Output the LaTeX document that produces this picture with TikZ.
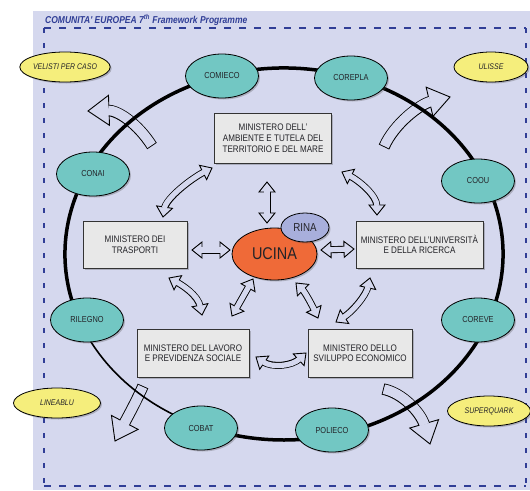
\documentclass[tikz,border=0pt]{standalone}
\usepackage{fontspec}
\usetikzlibrary{decorations.markings,shadows,shapes.geometric}
\newfontfamily\nf{Liberation Sans}[FakeStretch=0.85]
\definecolor{bgc}{RGB}{213,216,238}
\definecolor{framec}{RGB}{48,62,150}
\definecolor{tealc}{RGB}{114,199,195}
\definecolor{yelc}{RGB}{245,238,124}
\definecolor{orc}{RGB}{239,106,56}
\definecolor{rinac}{RGB}{168,175,220}
\definecolor{boxc}{RGB}{232,232,232}
\definecolor{txtc}{RGB}{35,35,40}
\tikzset{
  shad/.style={drop shadow={shadow xshift=1.5pt,shadow yshift=-1.5pt,opacity=0.3,fill=black!70}},
  tealnode/.style={ellipse, draw=black, line width=0.8pt, fill=tealc, minimum width=73pt, minimum height=44pt, inner sep=0pt, font=\nf\fontsize{8.7}{10}\selectfont, text=txtc, shad},
  yelnode/.style={ellipse, draw=black, line width=0.8pt, fill=yelc, minimum height=30pt, inner sep=0pt, font=\nf\itshape\fontsize{8.2}{10}\selectfont, text=txtc, shad},
  mbox/.style={rectangle, draw=black!80, line width=0.8pt, fill=boxc, inner sep=0pt, align=center, font=\nf\fontsize{9.5}{10.5}\selectfont, text=txtc, shad},
  headst/.style={fill=bgc, draw=black, line width=0.9pt, line join=miter},
  ringline/.style={draw=black, line width=3.5pt},
}
% hollow double-headed arrow: outline 0.9pt
\newcommand{\DArr}[1]{%
  \draw[line width=7pt, shorten >=8pt, shorten <=8pt] #1;
  \path[decorate, decoration={markings,
     mark=at position 0 with {\filldraw[headst] (0,0) -- (10pt,8pt) -- (10pt,-8pt) -- cycle;},
     mark=at position 1 with {\filldraw[headst] (0,0) -- (-10pt,8pt) -- (-10pt,-8pt) -- cycle;}}] #1;
  \draw[line width=5.2pt, bgc, shorten >=9pt, shorten <=9pt] #1;
}
% hollow single arrow
\newcommand{\SArr}[1]{%
  \draw[line width=11.5pt, shorten >=19pt] #1;
  \path[decorate, decoration={markings,
     mark=at position 1 with {\filldraw[headst] (0,0) -- (-21pt,15pt) -- (-21pt,-15pt) -- cycle;}}] #1;
  \draw[line width=9.7pt, bgc, shorten >=20pt, shorten <=0.9pt] #1;
}
\begin{document}
\begin{tikzpicture}[x=1pt,y=-1pt]
\useasboundingbox (0,0) rectangle (530,490);
\fill[white] (0,0) rectangle (530,490);
\fill[bgc] (33,11) rectangle (530,490);
% dashed frame
\draw[framec, line width=1.4pt, dash pattern=on 7pt off 8pt] (44,28) -- (526,28);
\draw[framec, line width=1.4pt, dash pattern=on 7pt off 8pt] (44,486) -- (526,486);
\draw[framec, line width=1.4pt, dash pattern=on 5pt off 10pt] (44,28) -- (44,486);
\draw[framec, line width=1.4pt, dash pattern=on 5pt off 10pt] (526,28) -- (526,486);
\node[anchor=base west, text=framec, inner sep=0pt, font=\nf\bfseries\itshape\fontsize{10}{12}\selectfont] (title) at (45,23) {COMUNITA' EUROPEA 7\textsuperscript{th} Framework Programme};

% big outward arrows
\SArr{(152,146) .. controls (138,124) and (118,110) .. (88,111)}
\SArr{(384,147) .. controls (394,124) and (420,104) .. (450,97)}
\SArr{(143,386) .. controls (136,402) and (126,420) .. (115,441)}
\SArr{(383,389) .. controls (403,393) and (421,413) .. (430,444)}

% ring
\draw[ringline] (284,254) ++(-160:219pt and 186pt) arc[start angle=-160, end angle=-470, x radius=219pt, y radius=186pt];
\draw[black, line width=1.6pt] (284,254) ++(-110:219pt and 186pt) arc[start angle=-110, end angle=-160, x radius=219pt, y radius=186pt];

% outer nodes
\node[tealnode] (comieco) at (222,76) {COMIECO};
\node[tealnode] (corepla) at (351,78) {COREPLA};
\node[tealnode] (conai) at (93,174) {CONAI};
\node[tealnode] (coou) at (478,181) {COOU};
\node[tealnode] (rilegno) at (87,320) {RILEGNO};
\node[tealnode] (coreve) at (478,320) {COREVE};
\node[tealnode] (cobat) at (201,428) {COBAT};
\node[tealnode] (polieco) at (332,430) {POLIECO};

\node[yelnode, minimum width=87pt] (velisti) at (65,67) {VELISTI PER CASO};
\node[yelnode, minimum width=74pt] (ulisse) at (491,67) {ULISSE};
\node[yelnode, minimum width=87pt] (lineablu) at (57,403) {LINEABLU};
\node[yelnode, minimum width=83pt] (superquark) at (489,411) {SUPERQUARK};

% ministries
\node[mbox, minimum width=117pt, minimum height=50pt, font=\nf\fontsize{9.5}{11}\selectfont] (amb) at (273,138) {MINISTERO DELL’\\AMBIENTE E TUTELA DEL\\TERRITORIO E DEL MARE};
\node[mbox, minimum width=104pt, minimum height=47pt] (trasp) at (135,244.5) {MINISTERO DEI\\TRASPORTI};
\node[mbox, minimum width=127pt, minimum height=47pt] (univ) at (419.5,244.5) {MINISTERO DELL’UNIVERSITÀ\\E DELLA RICERCA};
\node[mbox, minimum width=112pt, minimum height=48pt] (lav) at (193,353) {MINISTERO DEL LAVORO\\E PREVIDENZA SOCIALE};
\node[mbox, minimum width=104pt, minimum height=48pt] (svil) at (360,353) {MINISTERO DELLO\\SVILUPPO ECONOMICO};

% center
\node[ellipse, draw=black, line width=0.8pt, fill=orc, minimum width=85pt, minimum height=52pt, inner sep=0pt, font=\nf\fontsize{17}{20}\selectfont, text=txtc, shad] (ucina) at (274.5,254) {UCINA};
\node[ellipse, draw=black, line width=0.8pt, fill=rinac, minimum width=48pt, minimum height=29pt, inner sep=0pt, font=\nf\fontsize{11.5}{13}\selectfont, text=txtc, shad] (rina) at (305,227.5) {RINA};

% double arrows
\DArr{(163,217) .. controls (166,198) and (192,178) .. (212,168)}
\DArr{(342,172) .. controls (358,180) and (377,195) .. (377,215)}
\DArr{(267,182) -- (267,223)}
\DArr{(192,250) -- (230,250)}
\DArr{(321,250) -- (354,249)}
\DArr{(169,278) .. controls (182,285) and (198,295) .. (202,315)}
\DArr{(253,279) -- (232,316)}
\DArr{(296,283) .. controls (305,292) and (312,305) .. (318,318)}
\DArr{(370,278) .. controls (366,296) and (352,312) .. (336,322)}
\DArr{(256,357) .. controls (272,368) and (292,366) .. (306,353)}
\end{tikzpicture}
\end{document}
